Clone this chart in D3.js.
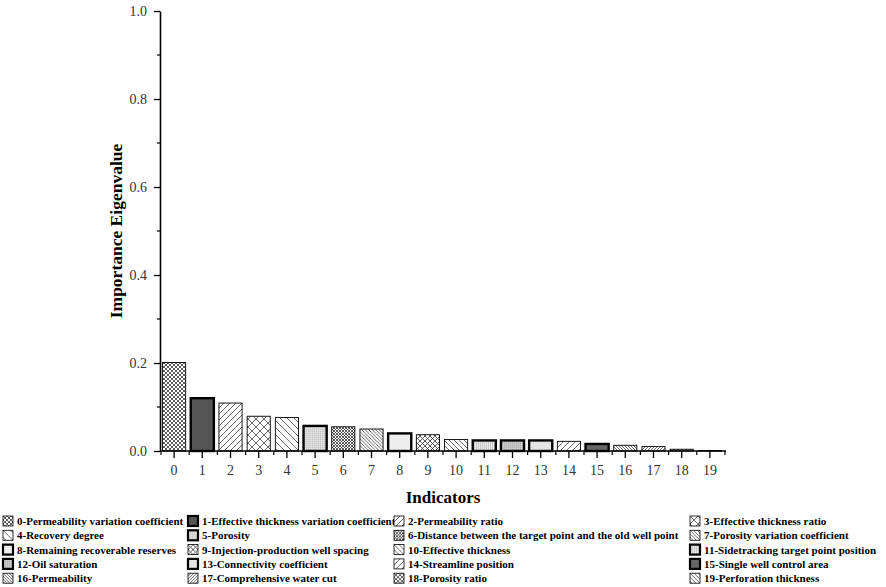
<!DOCTYPE html>
<html>
<head>
<meta charset="utf-8">
<script src="https://cdn.jsdelivr.net/npm/d3@7"></script>
<style>
  body { margin: 0; background: #fff; }
  text { font-family: "Liberation Serif", "Times New Roman", serif; }
</style>
</head>
<body>
<svg id="chart"></svg>
<script>
const W = 886, H = 587;

// data
const indicators = d3.range(20);
const values = [0.201, 0.120, 0.109, 0.079, 0.076, 0.057, 0.055, 0.050, 0.040, 0.037,
                0.026, 0.024, 0.024, 0.024, 0.022, 0.016, 0.013, 0.010, 0.004, 0.001];
const names = [
    "Permeability variation coefficient", "Effective thickness variation coefficient",
    "Permeability ratio", "Effective thickness ratio", "Recovery degree", "Porosity",
    "Distance between the target point and the old well point", "Porosity variation coefficient",
    "Remaining recoverable reserves", "Injection-production well spacing", "Effective thickness",
    "Sidetracking target point position", "Oil saturation", "Connectivity coefficient",
    "Streamline position", "Single well control area", "Permeability", "Comprehensive water cut",
    "Porosity ratio", "Perforation thickness"
];
const yTicks = [0, 0.2, 0.4, 0.6, 0.8, 1.0];

// fill style per bar: kind, background, spacing, stroke
const fills = [
    {kind: "cross", bg: "#fff", s: 4, c: "#333"},
    {kind: "solid", bg: "#555"},
    {kind: "fwd", bg: "#fff", s: 6, c: "#444"},
    {kind: "cross", bg: "#fff", s: 8, c: "#444"},
    {kind: "back", bg: "#fff", s: 7, c: "#444"},
    {kind: "grid", bg: "#e6e6e6", s: 2, c: "#bbb"},
    {kind: "cross", bg: "#fff", s: 3, c: "#333"},
    {kind: "back", bg: "#fff", s: 3.5, c: "#444"},
    {kind: "solid", bg: "#eee"},
    {kind: "cross", bg: "#fff", s: 5, c: "#333"},
    {kind: "back", bg: "#fff", s: 5, c: "#444"},
    {kind: "vert", bg: "#e8e8e8", s: 2, c: "#c4c4c4"},
    {kind: "grid", bg: "#cfcfcf", s: 2, c: "#aaa"},
    {kind: "solid", bg: "#e4e4e4"},
    {kind: "fwd", bg: "#fff", s: 6, c: "#444"},
    {kind: "solid", bg: "#666"},
    {kind: "back", bg: "#fff", s: 3, c: "#444"},
    {kind: "fwd", bg: "#fff", s: 3, c: "#444"},
    {kind: "cross", bg: "#fff", s: 4, c: "#333"},
    {kind: "back", bg: "#fff", s: 4, c: "#444"}
];
const thick = [1, 5, 8, 11, 12, 13, 15];

const margin = {top: 11, left: 160},
    plotW = 566, plotH = 440;

const svg = d3.select("#chart").attr("width", W).attr("height", H);

// patterns
const defs = svg.append("defs");
fills.forEach((f, i) => {
    if (f.kind === "solid") return;
    const s = f.s;
    const p = defs.append("pattern")
        .attr("id", "pat" + i)
        .attr("patternUnits", "userSpaceOnUse")
        .attr("width", s).attr("height", s);
    p.append("rect").attr("width", s).attr("height", s).attr("fill", f.bg);
    const line = d => p.append("path").attr("d", d).attr("stroke", f.c)
        .attr("stroke-width", 0.8).attr("fill", "none");
    if (f.kind === "fwd" || f.kind === "cross") {
        line(`M0,${s} L${s},0 M${-s / 2},${s / 2} L${s / 2},${-s / 2} M${s / 2},${s * 1.5} L${s * 1.5},${s / 2}`);
    }
    if (f.kind === "back" || f.kind === "cross") {
        line(`M0,0 L${s},${s} M${-s / 2},${s / 2} L${s / 2},${s * 1.5} M${s / 2},${-s / 2} L${s * 1.5},${s / 2}`);
    }
    if (f.kind === "grid") {
        line(`M0,0 L${s},0 M0,0 L0,${s}`);
    }
    if (f.kind === "vert") {
        line(`M0.5,0 L0.5,${s}`);
    }
});
const fillOf = i => fills[i].kind === "solid" ? fills[i].bg : "url(#pat" + i + ")";

const g = svg.append("g")
    .attr("transform", "translate(" + margin.left + "," + margin.top + ")");

let x = d3.scaleBand()
    .domain(indicators)
    .range([0, plotW - 2])
    .paddingInner(0.18)
    .paddingOuter(0.09);

let y = d3.scaleLinear()
    .domain([0, 1])
    .range([plotH, 0]);

// bars
g.selectAll("rect.bar")
    .data(indicators)
    .enter()
    .append("rect")
    .attr("class", "bar")
    .attr("x", d => x(d))
    .attr("y", d => y(values[d]))
    .attr("width", x.bandwidth())
    .attr("height", d => y(0) - y(values[d]))
    .attr("fill", d => fillOf(d))
    .attr("stroke", "#000")
    .attr("stroke-width", d => thick.includes(d) ? 2.4 : 0.9);

// x axis
const xAxis = g.append("g")
    .attr("transform", "translate(0," + plotH + ")")
    .call(d3.axisBottom(x).tickSizeInner(7).tickSizeOuter(0).tickPadding(7));
xAxis.select(".domain").attr("stroke-width", 1.6).attr("d", "M0,0H" + plotW);
xAxis.selectAll(".tick line").attr("stroke-width", 1.3);
xAxis.selectAll("text")
    .attr("font-size", "14px")
    .attr("font-family", "Liberation Serif")
    .attr("fill", "#333");

// minor x ticks between bars
g.append("g").selectAll("line")
    .data(d3.range(21))
    .enter()
    .append("line")
    .attr("x1", d => d * x.step() + 1)
    .attr("x2", d => d * x.step() + 1)
    .attr("y1", plotH)
    .attr("y2", plotH + 4)
    .attr("stroke", "#000")
    .attr("stroke-width", 1.2);

// y axis
const yAxis = g.append("g")
    .call(d3.axisLeft(y).tickValues(yTicks).tickFormat(d3.format(".1f"))
        .tickSizeInner(6).tickSizeOuter(0).tickPadding(7));
yAxis.select(".domain").attr("stroke-width", 1.6);
yAxis.selectAll(".tick line").attr("stroke-width", 1.3);
yAxis.selectAll("text")
    .attr("font-size", "14px")
    .attr("font-family", "Liberation Serif")
    .attr("fill", "#333");

g.append("g").selectAll("line")
    .data([0.1, 0.3, 0.5, 0.7, 0.9])
    .enter()
    .append("line")
    .attr("x1", -3).attr("x2", 0)
    .attr("y1", d => y(d)).attr("y2", d => y(d))
    .attr("stroke", "#000")
    .attr("stroke-width", 1.2);

// axis titles
svg.append("text")
    .attr("x", 443)
    .attr("y", 503)
    .attr("text-anchor", "middle")
    .attr("font-size", "17px")
    .attr("font-weight", "bold")
    .text("Indicators");

svg.append("text")
    .attr("transform", "translate(122,231) rotate(-90)")
    .attr("text-anchor", "middle")
    .attr("font-size", "17.5px")
    .attr("font-weight", "bold")
    .text("Importance Eigenvalue");

// legend
const colX = [3, 188, 394, 690];
const legend = svg.append("g").selectAll("g")
    .data(indicators)
    .enter()
    .append("g")
    .attr("transform", d => "translate(" + colX[d % 4] + "," + (516 + Math.floor(d / 4) * 14.3) + ")");

legend.append("rect")
    .attr("width", 10)
    .attr("height", 10)
    .attr("fill", d => fillOf(d))
    .attr("stroke", "#000")
    .attr("stroke-width", d => thick.includes(d) ? 2.2 : 0.8);

legend.append("text")
    .attr("x", 14)
    .attr("y", 9)
    .attr("font-size", "11px")
    .attr("font-weight", "bold")
    .text(d => d + "-" + names[d]);
</script>
</body>
</html>
